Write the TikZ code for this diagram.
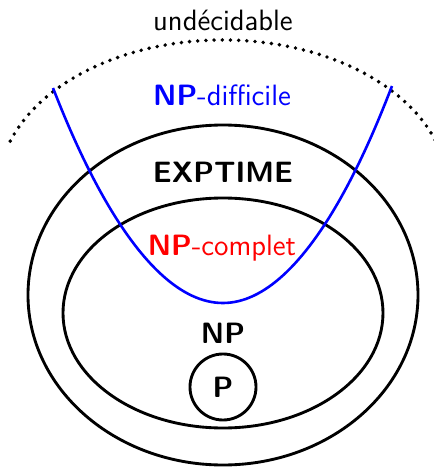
\documentclass[tikz,border=0pt]{standalone}
\begin{document}
\begin{tikzpicture}[x=0.0135cm,y=0.0135cm,
  setline/.style={line width=1.1pt},
  lbl/.style={font=\fontsize{11.3}{13}\sffamily},
  blbl/.style={font=\fontsize{11.3}{13}\sffamily\bfseries}]
\useasboundingbox (0,0) rectangle (434,473);
\coordinate (cu) at (223,283);
\coordinate (ce) at (223,178);
\coordinate (cn) at (223,160);
\draw[line width=1.5pt, dash pattern=on 0pt off 3.15pt, line cap=round]
  ([shift={(161:225 and 150)}]cu) arc[start angle=161, end angle=19, x radius=225, y radius=150];
\draw[setline] (ce) ellipse[x radius=195, y radius=170];
\draw[setline] (cn) ellipse[x radius=160, y radius=115];
\node[setline, draw, circle, minimum size=66*0.0135cm, inner sep=0pt, blbl] (p) at (223,86) {P};
\coordinate (hl) at (53,385);
\coordinate (hb) at (223,170);
\coordinate (hr) at (392,387);
\draw[blue, line width=1pt] (hl) parabola bend (hb) (hr);
\node[lbl] (und) at (223,453) {undécidable};
\node[lbl, text=blue] (nph) at (222,378) {\textbf{NP}-difficile};
\node[blbl] (exp) at (223,301) {EXPTIME};
\node[lbl, text=red] (npc) at (222,225) {\textbf{NP}-complet};
\node[blbl] (np) at (223,140) {NP};
\end{tikzpicture}
\end{document}
